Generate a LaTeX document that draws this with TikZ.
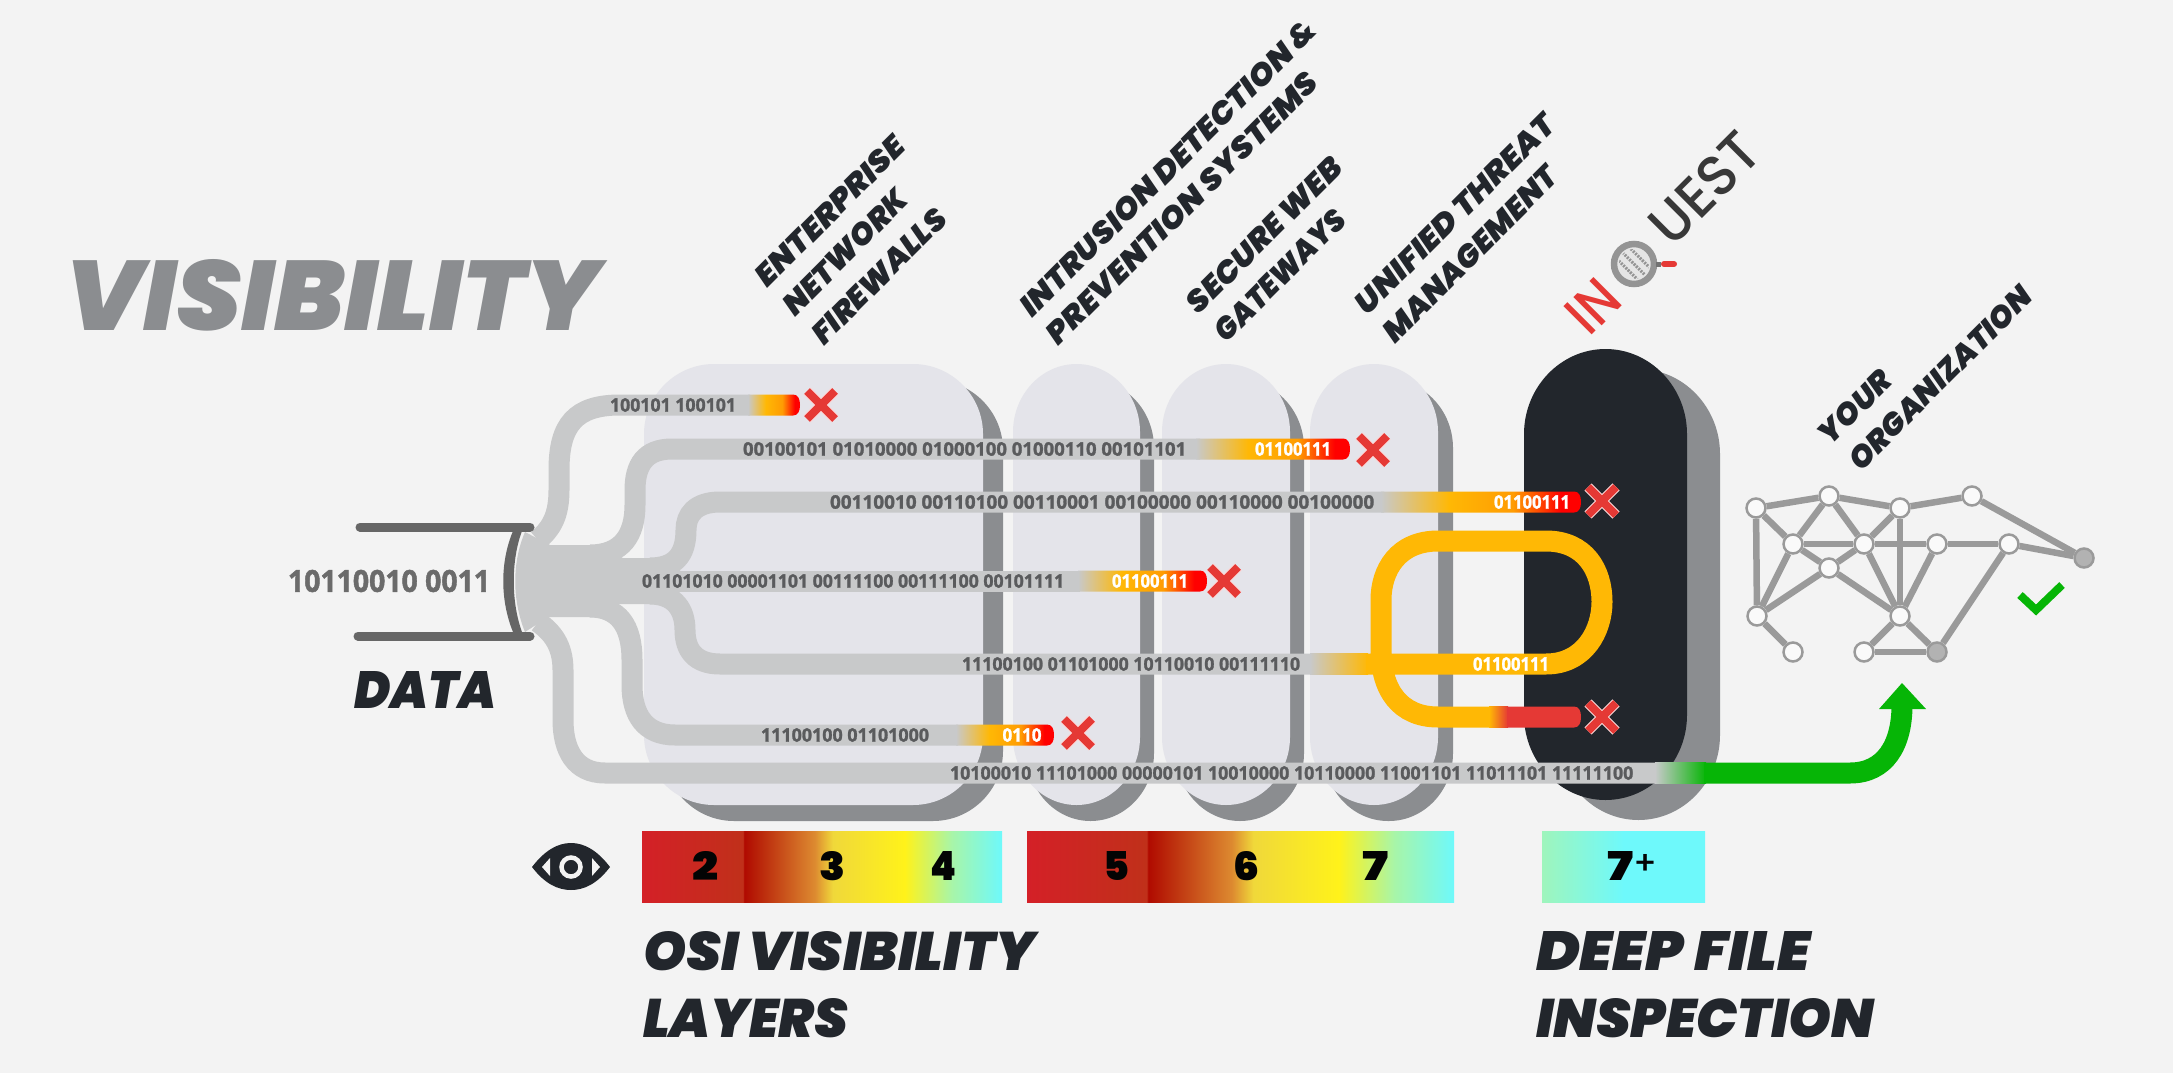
\documentclass[tikz,border=0pt]{standalone}
\usepackage{fontspec}
\usepackage{graphicx}
\newfontfamily\hvy{Poppins Black Italic}
\newfontfamily\hvu{Poppins Black}
\newfontfamily\lgt{Poppins Medium}
\newfontfamily\bitf{Open Sans Bold}[FakeBold=1.5]
\definecolor{bgc}{HTML}{F3F3F3}
\definecolor{pan}{HTML}{E4E4EA}
\definecolor{shd}{HTML}{8B8D90}
\definecolor{dark}{HTML}{22262C}
\definecolor{tube}{HTML}{C8C9CA}
\definecolor{txtb}{HTML}{5A5B5D}
\definecolor{amber}{HTML}{FFB805}
\definecolor{xred}{HTML}{E53935}
\definecolor{grn}{HTML}{06B506}
\definecolor{netc}{HTML}{9A9A9A}
\pgfdeclarehorizontalshading{tubeg}{100bp}{color(0bp)=(tube); color(25bp)=(tube); color(42bp)=(amber); color(58bp)=(amber!50!orange); color(70bp)=(red); color(75bp)=(red); color(100bp)=(red)}
\definecolor{b1}{HTML}{D42027}\definecolor{b2}{HTML}{C0301A}\definecolor{b3}{HTML}{B00A00}
\definecolor{b4}{HTML}{DD8A30}\definecolor{b5}{HTML}{F0D83A}\definecolor{b6}{HTML}{FFF21A}
\definecolor{b7}{HTML}{A8F5A8}\definecolor{b8}{HTML}{6EF9FB}\definecolor{b9}{HTML}{9FF5BC}
\pgfdeclarehorizontalshading{barg}{100bp}{color(0bp)=(b1); color(25bp)=(b1); color(39bp)=(b2); color(39.2bp)=(b3); color(49bp)=(b4); color(51.5bp)=(b5); color(61.5bp)=(b6); color(68bp)=(b7); color(75bp)=(b8); color(100bp)=(b8)}
\pgfdeclarehorizontalshading{bargs}{100bp}{color(0bp)=(b9); color(25bp)=(b9); color(50bp)=(b8); color(100bp)=(b8)}
\pgfdeclarehorizontalshading{tgrn}{100bp}{color(0bp)=(tube); color(25bp)=(tube); color(75bp)=(grn); color(100bp)=(grn)}
\pgfdeclarehorizontalshading{tamb}{100bp}{color(0bp)=(tube); color(25bp)=(tube); color(75bp)=(amber); color(100bp)=(amber)}
\pgfdeclarehorizontalshading{tred}{100bp}{color(0bp)=(amber); color(25bp)=(amber); color(75bp)=(xred); color(100bp)=(xred)}
\tikzset{
  tubeline/.style={draw=tube,line width=21pt,line cap=butt},
  bit/.style={inner sep=0pt,outer sep=0pt,anchor=west,text=txtb},
  wbit/.style={inner sep=0pt,outer sep=0pt,text=white},
  head/.style={inner sep=0pt,outer sep=0pt,text=dark},
  rlabel/.style={head,rotate=45},
  num/.style={inner sep=0pt,outer sep=0pt,text=black!90!dark},
  netnode/.style={circle,draw=netc,line width=2.5pt,fill=white!60!bgc,minimum size=19pt,inner sep=0pt},
  netdark/.style={circle,draw=netc,line width=2.5pt,fill=black!30,minimum size=19pt,inner sep=0pt},
  netedge/.style={draw=netc,line width=6.5pt},
  amberline/.style={draw=amber,line width=21pt},
  pipe/.style={draw=black!60,line width=9pt,line cap=round},
}
% fill, x0,x1,y0,y1,rx,ry
\newcommand\capsule[7]{\fill[#1] (#2,{#4+#7}) .. controls (#2,{#4+.45*#7}) and ({#2+.45*#6},#4) .. ({#2+#6},#4) -- ({#3-#6},#4) .. controls ({#3-.45*#6},#4) and (#3,{#4+.45*#7}) .. (#3,{#4+#7}) -- (#3,{#5-#7}) .. controls (#3,{#5-.45*#7}) and ({#3-.45*#6},#5) .. ({#3-#6},#5) -- ({#2+#6},#5) .. controls ({#2+.45*#6},#5) and (#2,{#5-.45*#7}) .. (#2,{#5-#7}) -- cycle;}
\newcommand\bits[5]{\node[bit] (#1) at (#2,#4) {\resizebox{#3pt}{13.5pt}{\bitf #5}};}
\newcommand\wbits[4]{\node[wbit] (#1) at (#2,#3) {\resizebox{#4pt}{13.5pt}{\bitf 01100111}};}
% x cross
\newcommand\xmark[3]{\coordinate (#1) at (#2,#3);
 \draw[white!80!xred,line width=10pt] ({#2-14},{#3-14}) -- ({#2+14},{#3+14}) ({#2-14},{#3+14}) -- ({#2+14},{#3-14});
 \draw[xred,line width=8pt] ({#2-14},{#3-14}) -- ({#2+14},{#3+14}) ({#2-14},{#3+14}) -- ({#2+14},{#3-14});}
\newcommand\gradend[3]{\shade[shading=tubeg] (#1,{#3-10.5}) -- ({#2-7},{#3-10.5}) .. controls ({#2-2},{#3-10.5}) and (#2,{#3-6}) .. (#2,#3) .. controls (#2,{#3+6}) and ({#2-2},{#3+10.5}) .. ({#2-7},{#3+10.5}) -- (#1,{#3+10.5}) -- cycle;}
\newcommand\lab[6]{\node[rlabel] (#1) at (#2,#3) {\resizebox{#4pt}{#5pt}{\hvy #6}};}
\begin{document}
\begin{tikzpicture}[x=1pt,y=-1pt]
\useasboundingbox (0,0) rectangle (2173,1073);
\fill[bgc] (0,0) rectangle (2173,1073);
% panels
\capsule{shd}{664}{1003}{380}{821}{70}{70}
\capsule{pan}{644}{983}{364}{805}{70}{70}
\capsule{shd}{1027}{1154}{380}{821}{63.5}{68}
\capsule{pan}{1013}{1140}{364}{805}{63.5}{68}
\capsule{shd}{1176}{1304}{380}{821}{64}{68}
\capsule{pan}{1162}{1290}{364}{805}{64}{68}
\capsule{shd}{1324}{1453}{380}{821}{64}{68}
\capsule{pan}{1310}{1438}{364}{805}{64}{68}
\capsule{shd}{1557}{1720}{369}{820}{81.5}{85}
\capsule{dark}{1524}{1687}{349}{800}{81.5}{85}
% hub
\fill[tube] (525,532) -- (550,545) -- (597,545) -- (623,558) -- (663,558) -- (680,570) -- (680,592) -- (667,604) -- (618,604) -- (597,617) -- (548,617) -- (525,632) .. controls (512,600) and (512,562) .. (525,532) -- cycle;
% tubes
\draw[tubeline] (538,540) .. controls (552,528) and (559,515) .. (559,490) -- (559,470) .. controls (559,425) and (575,405) .. (620,405) -- (750,405);
\draw[tubeline] (590,555) .. controls (622,555) and (635,535) .. (635,505) -- (635,490) .. controls (635,465) and (645,449) .. (672,449) -- (1200,449);
\draw[tubeline] (650,568) .. controls (675,568) and (686,555) .. (686,530) .. controls (686,515) and (695,502) .. (720,502) -- (1384,502);
\draw[tubeline] (660,581) -- (1080,581);
\draw[tubeline] (650,594) .. controls (675,594) and (685,610) .. (685,630) .. controls (685,650) and (695,664) .. (720,664) -- (1312,664);
\draw[tubeline] (590,607) .. controls (618,607) and (632,625) .. (632,660) -- (632,685) .. controls (632,715) and (645,735) .. (675,735) -- (958,735);
\draw[tubeline] (538,622) .. controls (552,632) and (563,645) .. (563,670) -- (563,720) .. controls (563,750) and (575,773) .. (605,773) -- (1657,773);
% gradient ends
\gradend{748}{800}{405}
\gradend{1196}{1350}{449}
\gradend{1381}{1581}{502}
\gradend{1078}{1207}{581}
\gradend{956}{1054}{735}
% loop
\shade[shading=tamb] (1310,653.5) rectangle (1368,674.5);
\draw[amberline] (1366,664) -- (1546,664) .. controls (1585,664) and (1602,630) .. (1602,602) .. controls (1602,570) and (1585,541) .. (1546,541) -- (1438,541) .. controls (1398,541) and (1381,570) .. (1381,600) -- (1381,650) .. controls (1381,690) and (1400,717) .. (1438,717) -- (1490,717);
\shade[shading=tred] (1489,706.5) rectangle (1508,727.5);
\fill[xred] (1507,706.5) -- (1574,706.5) .. controls (1579,706.5) and (1581,711) .. (1581,717) .. controls (1581,723) and (1579,727.5) .. (1574,727.5) -- (1507,727.5) -- cycle;
% green
\shade[shading=tgrn] (1655,762.5) rectangle (1706,783.5);
\draw[grn,line width=21pt] (1704,773) -- (1850,773) .. controls (1885,773) and (1902,745) .. (1902,705);
\fill[grn] (1902,683) -- (1926,709) -- (1879,709) -- cycle;
% bits
\bits{t1}{610}{126}{405}{100101 100101}
\bits{t2}{743}{443}{449}{00100101 01010000 01000100 01000110 00101101}
\bits{t3}{830}{544}{502}{00110010 00110100 00110001 00100000 00110000 00100000}
\bits{t4}{642}{422}{581}{01101010 00001101 00111100 00111100 00101111}
\bits{t5}{962}{338}{664}{11100100 01101000 10110010 00111110}
\bits{t6}{761}{168}{735}{11100100 01101000}
\bits{t7}{950}{683}{773}{10100010 11101000 00000101 10010000 10110000 11001101 11011101 11111100}
\wbits{w2}{1293}{449}{76}
\wbits{w3}{1532}{502}{76}
\wbits{w4}{1150}{581}{76}
\wbits{w5}{1511}{664}{76}
\node[wbit] (w6) at (1022,735) {\resizebox{39pt}{13.5pt}{\bitf 0110}};
\node[bit,text=black!58] (din) at (288,581) {\resizebox{202pt}{22pt}{\bitf 10110010 0011}};
% crosses
\xmark{x1}{821}{405}
\xmark{x2}{1373}{450}
\xmark{x3}{1602}{501}
\xmark{x4}{1224}{581}
\xmark{x6}{1078}{733}
\xmark{x7}{1602}{717}
% pipe
\coordinate (pa) at (360,527); \coordinate (pb) at (530,527);
\coordinate (pc) at (358,636); \coordinate (pd) at (530,636);
\draw[pipe] (pa) -- (pb);
\draw[pipe] (pc) -- (pd);
\fill[black!60] (513,531) -- (522,531) .. controls (511,560) and (511,602) .. (522,632) -- (513,632) .. controls (500,600) and (500,562) .. (513,531) -- cycle;
% headings
\node[inner sep=0,outer sep=0,text=shd,anchor=west] (vis) at (65,295) {\resizebox{535pt}{71pt}{\hvy VISIBILITY}};
\node[head,anchor=west] (data) at (354,690) {\resizebox{142pt}{37pt}{\hvy DATA}};
\node[head,anchor=west] (osi) at (643,951) {\resizebox{392pt}{39pt}{\hvy OSI VISIBILITY}};
\node[head,anchor=west] (lay) at (643,1018) {\resizebox{205pt}{39pt}{\hvy LAYERS}};
\node[head,anchor=west] (deep) at (1536,951) {\resizebox{274pt}{39pt}{\hvy DEEP FILE}};
\node[head,anchor=west] (insp) at (1536,1018) {\resizebox{338pt}{39pt}{\hvy INSPECTION}};
% rotated labels
\lab{l1}{830}{211}{198}{22}{ENTERPRISE}
\lab{l2}{845}{252}{163}{22}{NETWORK}
\lab{l3}{879}{276}{177}{22}{FIREWALLS}
\lab{l4}{1168}{168}{405}{22}{INTRUSION DETECTION \&}
\lab{l5}{1182}{208}{370}{22}{PREVENTION SYSTEMS}
\lab{l6}{1264}{235}{206}{22}{SECURE WEB}
\lab{l7}{1280}{275}{172}{22}{GATEWAYS}
\lab{l8}{1455}{214}{268}{22}{UNIFIED THREAT}
\lab{l9}{1470}{254}{234}{22}{MANAGEMENT}
\lab{l10}{1855}{407}{90}{22}{YOUR}
\lab{l11}{1940}{378}{245}{22}{ORGANIZATION}
% logo
\node[inner sep=0,outer sep=0,text=xred,rotate=45] (lin) at (1593,306) {\resizebox{49pt}{40pt}{\lgt IN}};
\node[inner sep=0,outer sep=0,text=black!78,rotate=45] (lqu) at (1704.5,188) {\resizebox{131pt}{40pt}{\lgt UEST}};
\fill[black!10] (1634,264) circle[radius=18pt];
\begin{scope}
\clip (1634,264) circle[radius=15pt];
\foreach \d in {-12,-6,0,6,12}
  \draw[black!42,line width=3pt,dash pattern=on 2pt off 1.2pt] ({1634-16+\d},{264-16-\d}) -- ({1634+16+\d},{264+16-\d});
\end{scope}
\draw[black!42,line width=6.5pt] (1634,264) circle[radius=20pt];
\fill[black!55] (1656,261.5) rectangle (1661,266.5);
\draw[xred,line width=6pt,line cap=round] (1664,264) -- (1674,264);
% bars
\shade[shading=barg] (642,831) rectangle (1002,902);
\shade[shading=barg] (1027,831) rectangle (1454,902);
\shade[shading=bargs] (1542,831) rectangle (1705,902);
\node[num] (n2) at (705,866) {\resizebox{26pt}{29pt}{\hvu 2}};
\node[num] (n3) at (832,866) {\resizebox{26pt}{29pt}{\hvu 3}};
\node[num] (n4) at (943,866) {\resizebox{26pt}{29pt}{\hvu 4}};
\node[num] (n5) at (1116,866) {\resizebox{26pt}{29pt}{\hvu 5}};
\node[num] (n6) at (1246,866) {\resizebox{26pt}{29pt}{\hvu 6}};
\node[num] (n7) at (1375,866) {\resizebox{26pt}{29pt}{\hvu 7}};
\node[num] (n8) at (1632,866) {\resizebox{26pt}{29pt}{\hvu 7}\raisebox{6pt}{\resizebox{24pt}{20pt}{\lgt +}}};
% eye
\fill[dark] (532,867) .. controls (545,850) and (558,843) .. (571,843) .. controls (584,843) and (597,850) .. (610,867) .. controls (597,884) and (584,890) .. (571,890) .. controls (558,890) and (545,884) .. (532,867) -- cycle;
\fill[bgc] (542,867) -- (550,858) -- (550,876) -- cycle (600,867) -- (592,858) -- (592,876) -- cycle;
\draw[bgc,line width=4.5pt] (571,867) circle[radius=9.5pt];
% network
\node[netnode] (a) at (1756,508) {};
\node[netnode] (b) at (1829,496) {};
\node[netnode] (c) at (1900,508) {};
\node[netnode] (d) at (1972,496) {};
\node[netnode] (e) at (1793,544) {};
\node[netnode] (f) at (1864,544) {};
\node[netnode] (g) at (1937,544) {};
\node[netnode] (h) at (2009,544) {};
\node[netnode] (i) at (1829,568) {};
\node[netnode] (j) at (1757,616) {};
\node[netnode] (k) at (1900,616) {};
\node[netnode] (l) at (1793,652) {};
\node[netnode] (m) at (1864,652) {};
\node[netdark] (n) at (1937,652) {};
\node[netdark] (o) at (2084,558) {};
\foreach \u/\v in {a/e,a/j,b/e,b/f,c/f,c/k,d/o,e/i,f/i,e/j,i/j,i/k,f/k,g/k,j/l,k/m,k/n,h/n,a/b,b/c,c/d,e/f,f/g,g/h,h/o,m/n}
  \draw[netedge] (\u) -- (\v);
% check
\coordinate (k1) at (2020,595); \coordinate (k2) at (2036,610); \coordinate (k3) at (2062,585);
\draw[grn,line width=8pt] (k1) -- (k2) -- (k3);
\end{tikzpicture}
\end{document}
